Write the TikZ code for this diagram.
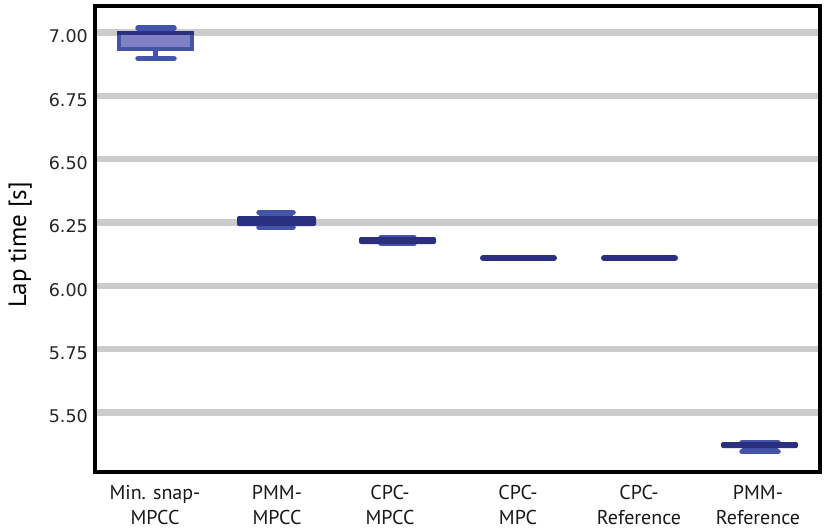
\documentclass[tikz,border=0pt]{standalone}
\usepackage{fontspec}
\setmainfont{PT Sans}
\newfontfamily\tickfont{DejaVu Sans}
\definecolor{gridgray}{RGB}{204,204,204}
\definecolor{boxmid}{RGB}{68,84,168}
\definecolor{boxfill}{RGB}{128,128,196}
\definecolor{boxdark}{RGB}{42,47,128}
\begin{document}
\begin{tikzpicture}[x=1pt,y=-1pt,
  gridline/.style={draw=gridgray,line width=6.5pt},
  ticklab/.style={anchor=base east,inner sep=0pt,font=\tickfont\fontsize{17.5}{20}\selectfont,text=black!85},
  catlab/.style={anchor=base,inner sep=0pt,font=\fontsize{20}{24}\selectfont,text=black!90},
  capline/.style={draw=boxmid,line width=5.5pt,line cap=round},
  stemline/.style={draw=boxmid,line width=5pt},
  medbar/.style={fill=boxdark,rounded corners=2pt},
  thinbar/.style={draw=boxdark,line width=6pt,line cap=round}]
\useasboundingbox (0,0) rectangle (830,532);
\fill[white] (0,0) rectangle (830,532);
% grid and tick labels
\foreach \k/\lab in {0/7.00,1/6.75,2/6.50,3/6.25,4/6.00,5/5.75,6/5.50}{
  \draw[gridline] (97,{32.5+63.33*\k}) -- (818,{32.5+63.33*\k});
  \node[ticklab] (tick\k) at (88,{43+63.33*\k}) {\lab};
}
% box 1: Min. snap-MPCC
\draw[stemline] (155.5,49) -- (155.5,58);
\draw[capline] (138,58.5) -- (174,58.5);
\draw[capline] (138,28) -- (174,28);
\draw[draw=boxmid,fill=boxfill,line width=4pt] (119,33) rectangle (192,49);
\draw[draw=boxdark,line width=4pt] (117,33) -- (194,33);
% box 2: PMM-MPCC
\draw[capline] (259,212.5) -- (293,212.5);
\draw[capline] (259,227.5) -- (293,227.5);
\fill[boxmid] (259,212) rectangle (293,228);
\path[medbar] (237,216) rectangle (316,226);
% box 3: CPC-MPCC
\draw[capline] (381,237.5) -- (414,237.5);
\draw[capline] (381,243.5) -- (414,243.5);
\path[medbar] (359,237) rectangle (436,244);
% box 4, 5: CPC-MPC, CPC-Reference
\draw[thinbar] (483,258) -- (554,258);
\draw[thinbar] (604,258) -- (675,258);
% box 6: PMM-Reference
\draw[capline] (742,442.5) -- (778,442.5);
\draw[capline] (742,451.5) -- (778,451.5);
\fill[boxmid] (742,443) rectangle (778,451);
\path[medbar] (721,442) rectangle (798,448);
% frame
\draw[line width=4pt,black] (95,6.5) rectangle (820,472);
% axis label
\node[rotate=90,anchor=base,inner sep=0pt,font=\fontsize{25}{30}\selectfont] (ylab) at (26,245) {Lap time [s]};
% category labels
\node[catlab] (c1a) at (155,499) {Min. snap-};
\node[catlab] (c1b) at (155,524) {MPCC};
\node[catlab] (c2a) at (277,499) {PMM-};
\node[catlab] (c2b) at (277,524) {MPCC};
\node[catlab] (c3a) at (390,499) {CPC-};
\node[catlab] (c3b) at (390,524) {MPCC};
\node[catlab] (c4a) at (518,499) {CPC-};
\node[catlab] (c4b) at (518,524) {MPC};
\node[catlab] (c5a) at (639,499) {CPC-};
\node[catlab] (c5b) at (639,524) {Reference};
\node[catlab] (c6a) at (758,499) {PMM-};
\node[catlab] (c6b) at (758,524) {Reference};
\end{tikzpicture}
\end{document}
